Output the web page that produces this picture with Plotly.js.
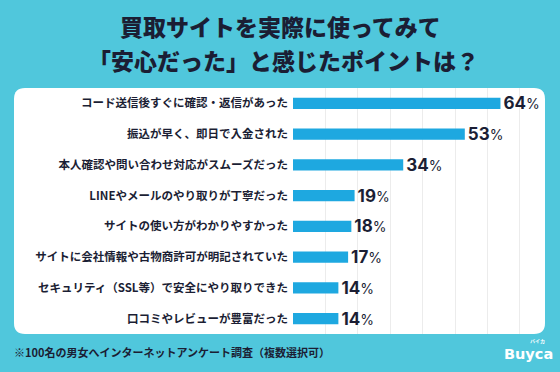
<!DOCTYPE html>
<html><head><meta charset="utf-8">
<script src="https://cdn.plot.ly/plotly-3.0.1.min.js"></script>
<style>html,body{margin:0;padding:0;background:#50c7dc;}#chart{width:560px;height:372px;}</style>
</head><body><div id="chart"></div>
<script>
const categories = [
  "コード送信後すぐに確認・返信があった",
  "振込が早く、即日で入金された",
  "本人確認や問い合わせ対応がスムーズだった",
  "LINEやメールのやり取りが丁寧だった",
  "サイトの使い方がわかりやすかった",
  "サイトに会社情報や古物商許可が明記されていた",
  "セキュリティ（SSL等）で安全にやり取りできた",
  "口コミやレビューが豊富だった"
];
const values = [64, 53, 34, 19, 18, 17, 14, 14];
const titleLine1 = "買取サイトを実際に使ってみて";
const titleLine2 = "「安心だった」と感じたポイントは？";
const footnote = "※100名の男女へインターネットアンケート調査（複数選択可）";

const W = 560, H = 372;
const px = x => x / W, py = y => 1 - y / H;
function roundRect(x0, y0, x1, y1, r) {
  const rx = r / W, ry = r / H;
  const X0 = px(x0), X1 = px(x1), Y0 = py(y0), Y1 = py(y1);
  return `M${X0 + rx},${Y0} L${X1 - rx},${Y0} Q${X1},${Y0} ${X1},${Y0 - ry} L${X1},${Y1 + ry} Q${X1},${Y1} ${X1 - rx},${Y1} L${X0 + rx},${Y1} Q${X0},${Y1} ${X0},${Y1 + ry} L${X0},${Y0 - ry} Q${X0},${Y0} ${X0 + rx},${Y0} Z`;
}

const trace = {
  type: 'bar', orientation: 'h',
  y: categories, x: values,
  marker: {color: '#1ea8e0'},
  width: 0.36,
  text: values.map(v => `<b>${v}</b><span style="font-size:14px">%</span>`),
  textposition: 'outside',
  constraintext: 'none',
  textfont: {family: 'Inter, "Noto Sans", sans-serif', size: 17, color: '#1b1e34'},
  cliponaxis: false,
  hoverinfo: 'skip'
};

const jp = '"Noto Sans CJK JP", "Noto Sans", sans-serif';
const titleFont = {family: jp, size: 23, color: '#1b1e34', weight: 900};
const layout = {
  width: W, height: H,
  margin: {l: 0, r: 0, t: 0, b: 0},
  paper_bgcolor: '#50c7dc', plot_bgcolor: 'rgba(0,0,0,0)',
  showlegend: false,
  xaxis: {
    domain: [293 / W, 546.5 / W],
    range: [0, 78.2], dtick: 10,
    showticklabels: false, showgrid: true, gridcolor: '#ececec', gridwidth: 1,
    zeroline: false, showline: false, fixedrange: true
  },
  yaxis: {
    domain: [1 - 334 / H, 1 - 88 / H],
    autorange: 'reversed', type: 'category',
    showgrid: false, zeroline: false, showline: false, ticks: '',
    ticklabelstandoff: 4,
    tickfont: {family: jp, size: 11.5, color: '#1b1e34', weight: 700},
    fixedrange: true
  },
  shapes: [{
    type: 'path', xref: 'paper', yref: 'paper', layer: 'below',
    path: roundRect(14, 88, 545, 334, 11),
    fillcolor: '#ffffff', line: {width: 0}
  }],
  annotations: [
    {text: titleLine1, xref: 'paper', yref: 'paper', x: px(280), y: py(26), xanchor: 'center', yanchor: 'middle',
     showarrow: false, borderpad: 0, font: titleFont},
    {text: titleLine2, xref: 'paper', yref: 'paper', x: px(283), y: py(60), xanchor: 'center', yanchor: 'middle',
     showarrow: false, borderpad: 0, font: titleFont},
    {text: footnote, xref: 'paper', yref: 'paper', x: px(12), y: py(352), xanchor: 'left', yanchor: 'middle',
     showarrow: false, font: {family: jp, size: 11, color: '#1b1e34', weight: 700}},
    {text: 'Buyca', xref: 'paper', yref: 'paper', x: px(528), y: py(354), xanchor: 'center', yanchor: 'middle',
     showarrow: false, borderpad: 0, font: {family: '"DejaVu Sans", sans-serif', size: 14.5, color: '#ffffff', weight: 700}},
    {text: 'バイカ', xref: 'paper', yref: 'paper', x: px(537), y: py(341), xanchor: 'center', yanchor: 'middle',
     showarrow: false, borderpad: 0, font: {family: jp, size: 5, color: '#ffffff', weight: 700}}
  ]
};
Plotly.newPlot('chart', [trace], layout, {displayModeBar: false, staticPlot: true});
</script></body></html>
